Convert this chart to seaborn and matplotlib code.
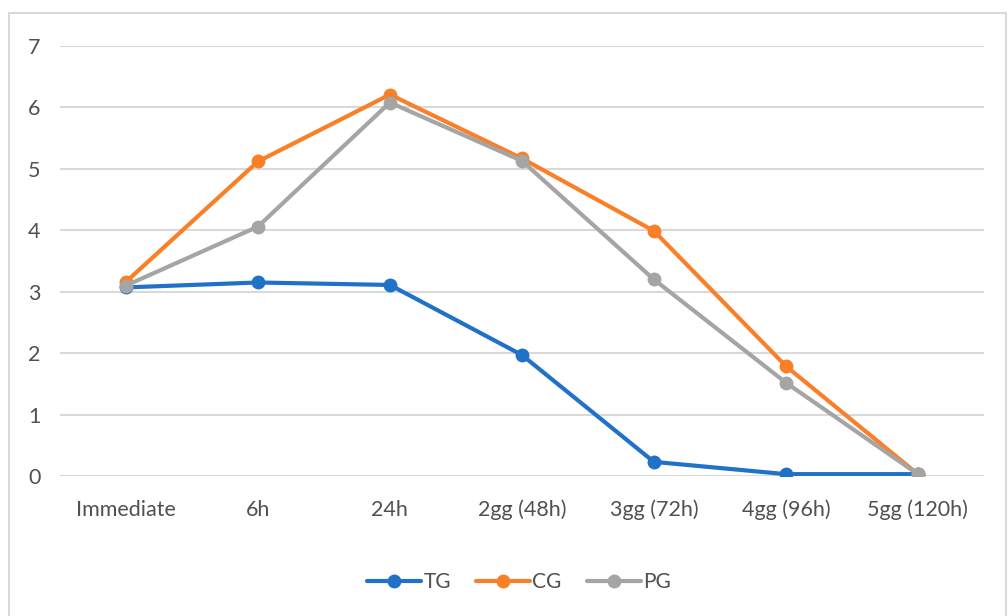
import matplotlib
matplotlib.use('Agg')
from matplotlib import pyplot as plt
from matplotlib.patches import Rectangle
import seaborn as sns
import pandas as pd

# valores
tiempos = ['Immediate', '6h', '24h', '2gg (48h)', '3gg (72h)', '4gg (96h)', '5gg (120h)']
tg = [3.07, 3.15, 3.11, 1.97, 0.23, 0.03, 0.03]
cg = [3.16, 5.12, 6.21, 5.17, 3.99, 1.79, 0.03]
pg = [3.10, 4.06, 6.08, 5.13, 3.20, 1.52, 0.03]
grupos = ['TG', 'CG', 'PG']
colores = ['#1F72C8', '#F97F28', '#A5A5A5']

df = pd.DataFrame({
    'tiempo': tiempos * 3,
    'valor': tg + cg + pg,
    'grupo': ['TG'] * 7 + ['CG'] * 7 + ['PG'] * 7,
})

sns.set_style('white')
plt.rcParams['font.family'] = ['Lato', 'DejaVu Sans']

fig = plt.figure(figsize=(10.08, 6.16), dpi=100)
ax = fig.add_axes([0.0595, 0.2273, 0.9165, 0.698])

sns.lineplot(data=df, x='tiempo', y='valor', hue='grupo', hue_order=grupos,
             palette=colores, marker='o', markersize=10, markeredgewidth=0,
             linewidth=3, sort=False, ax=ax)

ax.set_ylim(0, 7)
ax.set_xlim(-0.5, 6.5)
ax.set_yticks(range(0, 8))
ax.yaxis.grid(True, color='#D9D9D9', linewidth=1.5)
ax.set_axisbelow(True)
for s in ax.spines.values():
    s.set_visible(False)
ax.tick_params(axis='both', length=0, labelsize=15.5, colors='#505050')
ax.tick_params(axis='x', pad=17)
ax.tick_params(axis='y', pad=14)
ax.set_xlabel('')
ax.set_ylabel('')

leg = ax.legend(loc='upper center', bbox_to_anchor=(0.497, -0.18), ncol=3,
                frameon=False, fontsize=15, handlelength=2.6,
                columnspacing=1.2, handletextpad=0.1)
for t in leg.get_texts():
    t.set_color('#505050')

# marco exterior
fig.patches.append(Rectangle((9 / 1008, -0.01), 997 / 1008, 1 - 13 / 616 + 0.01,
                             transform=fig.transFigure, fill=False,
                             edgecolor='#D9D9D9', linewidth=1.5))

fig.savefig('out.png', dpi=100)
